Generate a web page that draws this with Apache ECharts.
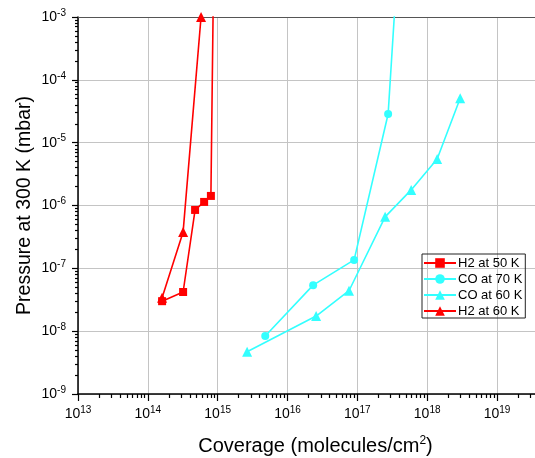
<!DOCTYPE html>
<html><head><meta charset="utf-8">
<script src="https://cdn.jsdelivr.net/npm/echarts@6/dist/echarts.min.js"></script>
<style>html,body{margin:0;padding:0;background:#fff}#c{width:535px;height:458px}</style>
</head><body><div id="c"></div>
<script>
const seriesNames = ['H2 at 50 K', 'CO at 70 K', 'CO at 60 K', 'H2 at 60 K'];
// H2 at 50 K (last point lies above the plotted range)
const h2At50K_x = [1.6e14, 3.2e14, 4.75e14, 6.4e14, 8.0e14, 8.8e14];
const h2At50K_y = [3.0e-8, 4.2e-8, 8.5e-7, 1.14e-6, 1.42e-6, 1e-2];
// CO at 70 K (last point lies above the plotted range)
const co70K_x = [4.8e15, 2.33e16, 9.0e16, 2.76e17, 3.85e17];
const co70K_y = [8.4e-9, 5.4e-8, 1.36e-7, 2.86e-5, 1e-2];
// CO at 60 K
const co60K_x = [2.64e15, 2.57e16, 7.6e16, 2.5e17, 5.9e17, 1.39e18, 2.97e18];
const co60K_y = [4.7e-9, 1.74e-8, 4.4e-8, 6.6e-7, 1.77e-6, 5.5e-6, 5.1e-5];
// H2 at 60 K
const h2At60K_x = [1.6e14, 3.2e14, 5.78e14];
const h2At60K_y = [3.4e-8, 3.8e-7, 1e-3];

const xTicks = [1e13, 1e14, 1e15, 1e16, 1e17, 1e18, 1e19];
const yTicks = [1e-9, 1e-8, 1e-7, 1e-6, 1e-5, 1e-4, 1e-3];
const xMin = 1e13, xMax = 3.5e19, yMin = 1e-9, yMax = 1e-3;

function minorOf(ticks, lo, hi) {
  const out = [];
  ticks.forEach(t => { for (let k = 2; k <= 9; k++) { const v = t * k; if (v > lo && v < hi) out.push(v); } });
  return out;
}
const xMinor = minorOf(xTicks, xMin, xMax);
const yMinor = minorOf(yTicks, yMin, yMax);

const FONT = '"Liberation Sans", Arial, sans-serif';
const pairs = (xs, ys) => xs.map((x, i) => [x, ys[i]]);
const RED = '#FF0000', CYAN = '#33FFFF';
const richLbl = {
  b: { fontSize: 14, fontFamily: FONT, color: '#000', lineHeight: 18 },
  s: { fontSize: 10, fontFamily: FONT, color: '#000', lineHeight: 10, verticalAlign: 'top' }
};
const expFmt = v => '{b|10}{s|' + Math.round(Math.log10(v)) + '}';

const chart = echarts.init(document.getElementById('c'), null, { renderer: 'canvas' });
chart.setOption({
  animation: false,
  backgroundColor: '#fff',
  grid: { left: 78, top: 17, right: 0, bottom: 64, containLabel: false, outerBoundsMode: 'none' },
  legend: {
    data: seriesNames,
    orient: 'vertical',
    left: 422, top: 254,
    padding: [2, 3, 0, 1],
    itemGap: 2,
    itemWidth: 32, itemHeight: 12,
    borderColor: '#222', borderWidth: 1, borderRadius: 0,
    textStyle: { fontSize: 13, fontFamily: FONT, color: '#000', lineHeight: 14, padding: [0, 0, 0, -3] }
  },
  xAxis: [
    {
      type: 'log', logBase: 10, min: xMin, max: xMax, position: 'bottom',
      name: '{a|Coverage (molecules/cm}{s|2}{a|)}', nameLocation: 'middle', nameGap: 41,
      nameTextStyle: {
        fontSize: 20, fontFamily: FONT, color: '#000', padding: [0, 0, 0, 18],
        rich: {
          a: { fontSize: 20, fontFamily: FONT, color: '#000', lineHeight: 22 },
          s: { fontSize: 12, fontFamily: FONT, color: '#000', verticalAlign: 'top', lineHeight: 14 }
        }
      },
      axisLine: { lineStyle: { color: '#000', width: 1.5 } },
      axisTick: { inside: false, length: 7, lineStyle: { color: '#000', width: 1.2 }, customValues: xTicks },
      axisLabel: { customValues: xTicks, formatter: expFmt, rich: richLbl, margin: 11 },
      splitLine: { show: true, lineStyle: { color: '#c4c4c4', width: 1 } },
      minorTick: { show: false }
    },
    {
      type: 'log', logBase: 10, min: xMin, max: xMax, position: 'bottom',
      axisLine: { show: false },
      axisTick: { length: 4, lineStyle: { color: '#000', width: 1.2 }, customValues: xMinor },
      axisLabel: { show: false },
      splitLine: { show: false }
    },
    {
      type: 'log', logBase: 10, min: xMin, max: xMax, position: 'top',
      axisLine: { show: true, lineStyle: { color: '#555', width: 1.2 } },
      axisTick: { show: false }, axisLabel: { show: false }, splitLine: { show: false }
    }
  ],
  yAxis: [
    {
      type: 'log', logBase: 10, min: yMin, max: yMax, position: 'left',
      name: 'Pressure at 300 K (mbar)', nameLocation: 'middle', nameGap: 43, nameMoveOverlap: false,
      nameTextStyle: { fontSize: 19.5, fontFamily: FONT, color: '#000' },
      axisLine: { lineStyle: { color: '#000', width: 1.5 } },
      axisTick: { length: 6, lineStyle: { color: '#000', width: 1.2 }, customValues: yTicks },
      axisLabel: { customValues: yTicks, formatter: expFmt, rich: richLbl, margin: 12 },
      splitLine: { show: true, lineStyle: { color: '#c4c4c4', width: 1 } }
    },
    {
      type: 'log', logBase: 10, min: yMin, max: yMax, position: 'left',
      axisLine: { show: false },
      axisTick: { length: 3, lineStyle: { color: '#000', width: 1.2 }, customValues: yMinor },
      axisLabel: { show: false },
      splitLine: { show: false }
    }
  ],
  series: [
    { name: seriesNames[0], type: 'line', data: pairs(h2At50K_x, h2At50K_y), symbol: 'rect', symbolSize: 8,
      itemStyle: { color: RED }, lineStyle: { color: RED, width: 1.6 }, clip: true },
    { name: seriesNames[1], type: 'line', data: pairs(co70K_x, co70K_y), symbol: 'circle', symbolSize: 8,
      itemStyle: { color: CYAN }, lineStyle: { color: CYAN, width: 1.6 }, clip: true },
    { name: seriesNames[2], type: 'line', data: pairs(co60K_x, co60K_y), symbol: 'triangle', symbolSize: 10,
      itemStyle: { color: CYAN }, lineStyle: { color: CYAN, width: 1.6 }, clip: true },
    { name: seriesNames[3], type: 'line', data: pairs(h2At60K_x, h2At60K_y), symbol: 'triangle', symbolSize: 10,
      itemStyle: { color: RED }, lineStyle: { color: RED, width: 1.6 }, clip: true }
  ]
});
</script>
</body></html>
